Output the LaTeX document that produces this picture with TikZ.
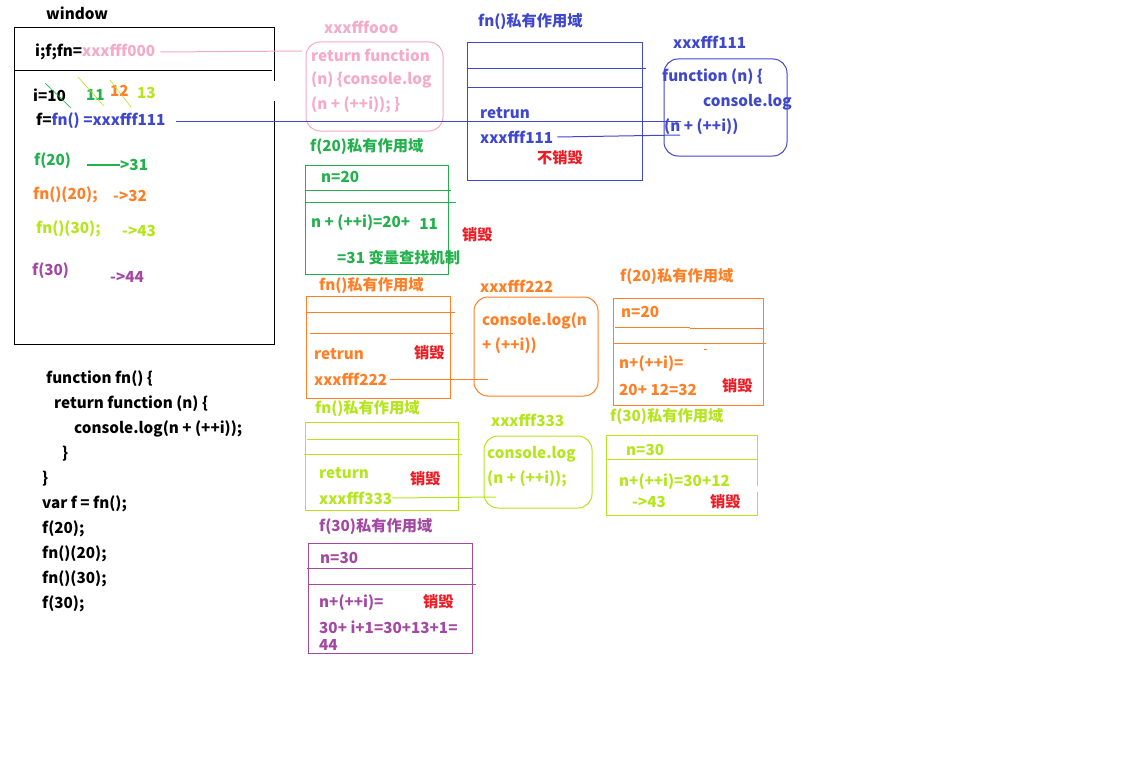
\documentclass[tikz,border=0pt]{standalone}
\usepackage{fontspec}
\setmainfont{Noto Sans CJK SC}
\usetikzlibrary{positioning}
\definecolor{pPink}{RGB}{245,170,200}
\definecolor{pBlue}{RGB}{63,72,204}
\definecolor{pGreen}{RGB}{34,177,76}
\definecolor{pOrange}{RGB}{255,127,39}
\definecolor{pLime}{RGB}{181,230,29}
\definecolor{pPurple}{RGB}{163,73,164}
\definecolor{pRed}{RGB}{237,28,36}
\tikzset{
    txt/.style={anchor=west, inner sep=0pt, font=\fontsize{15.3}{17}\selectfont\bfseries},
    pen/.style={line width=1bp},
    memo/.style={pen, rounded corners=14bp}
}

\begin{document}
\begin{tikzpicture}[x=1bp,y=-1bp]
\fill[white] (0,0) rectangle (1136,783);
\useasboundingbox (0,0) rectangle (1136,783);
% window
\node[txt] (winLbl) at (46,13) {window};
\draw[pen] (274,81) -- (274,28) -- (14,28) -- (14,344) -- (274,344) -- (274,101);
\draw[pen] (14,71) -- (272,71);
\node[txt] (vars) at (35,52) {i;f;fn=\textcolor{pPink}{xxxfff000}};
\node[txt] (iVal) at (33,95) {i=10};
\node[txt, pGreen] (i11) at (86,95) {11};
\node[txt, pOrange] (i12) at (110,91) {12};
\node[txt, pLime] (i13) at (137,93) {13};
\draw[pGreen, line width=0.6bp] (45,83) -- (71,108);
\draw[pLime, line width=0.6bp] (78,77) -- (104,106);
\draw[pLime, line width=0.6bp] (110,80) -- (131,107);
\node[txt] (fDef) at (36,121) {f=\textcolor{pBlue}{fn() =xxxfff111}};
\node[txt, pGreen] (call1) at (34,161) {f(20)};
\node[txt, pGreen] (res1) at (120,165) {>31};
\draw[pGreen, line width=2bp] ([xshift=-33bp]res1.west) -- (res1.west);
\node[txt, pOrange] (call2) at (33,195) {fn()(20);};
\node[txt, pOrange] (res2) at (113,196) {->32};
\node[txt, pLime] (call3) at (36,229) {fn()(30);};
\node[txt, pLime] (res3) at (122,231) {->43};
\node[txt, pPurple] (call4) at (32,271) {f(30)};
\node[txt, pPurple] (res4) at (110,277) {->44};
% source
\node[txt] (src1) at (46,379) {function fn() \{};
\node[txt] (src2) at (54,404) {return function (n) \{};
\node[txt] (src3) at (74,429) {console.log(n + (++i));};
\node[txt] (src4) at (62,454) {\}};
\node[txt] (src5) at (42,479) {\}};
\node[txt] (src6) at (42,504) {var f = fn();};
\node[txt] (src7) at (42,529) {f(20);};
\node[txt] (src8) at (42,554) {fn()(20);};
\node[txt] (src9) at (42,579) {fn()(30);};
\node[txt] (src10) at (42,604) {f(30);};
% heap xxxfffooo
\node[txt, pPink] (memA) at (324,27) {xxxfffooo};
\draw[pPink, memo] (306,42) rectangle (443,131);
\node[txt, pPink] (memA1) at (311,55) {return function};
\node[txt, pPink] (memA2) at (311,80) {(n) \{console.log};
\node[txt, pPink] (memA3) at (311,105) {(n + (++i)); \}};
\coordinate (memAin) at (302,51);
\draw[pPink, pen] ([xshift=5bp]vars.east) -- (memAin);
% fn() scope
\node[txt, pBlue] (scopeFn) at (478,22) {fn()私有作用域};
\draw[pBlue, pen] (467,43) rectangle (642,180);
\draw[pBlue, pen] (467,69) -- (646,69);
\draw[pBlue, pen] (467,88) -- (642,88);
\node[txt, pBlue] (ret1) at (480,113) {retrun};
\node[txt, pBlue] (addr1) at (480,137) {xxxfff111};
\node[txt, pRed] (keep1) at (537,158) {不销毁};
\node[txt, pBlue] (memB) at (673,42) {xxxfff111};
\draw[pBlue, memo] (664,59) rectangle (787,156);
\node[txt, pBlue] (memB1) at (662,77) {function (n) \{};
\node[txt, pBlue] (memB2) at (703,102) {console.log};
\node[txt, pBlue] (memB3) at (664,127) {(n + (++i))};
\coordinate (memBin) at (680,135);
\coordinate (memBtop) at (681,121);
\draw[pBlue, pen] ([xshift=4bp]addr1.east) -- (memBin);
\draw[pBlue, pen] ([xshift=10bp]fDef.east) -- (memBtop);
% f(20) scope
\node[txt, pGreen] (scopeF20) at (310,147) {f(20)私有作用域};
\draw[pGreen, pen] (305,165) rectangle (448,274);
\draw[pGreen, pen] (305,190) -- (451,190);
\draw[pGreen, pen] (305,202) -- (456,202);
\node[txt, pGreen] (n20a) at (321,177) {n=20};
\node[txt, pGreen] (sum1) at (311,223) {n + (++i)=20+\hspace{9bp}\raisebox{-2bp}{11}};
\node[txt, pGreen] (eq1) at (337,258) {=31 变量查找机制};
\node[txt, pRed] (kill1) at (462,235) {销毁};
% fn()(20) scope
\node[txt, pOrange] (scopeFn2) at (319,286) {fn()私有作用域};
\draw[pOrange, pen] (306,296) rectangle (450,398);
\draw[pOrange, pen] (306,312) -- (455,312);
\draw[pOrange, pen] (310,333) -- (453,333);
\node[txt, pOrange] (ret2) at (314,354) {retrun};
\node[txt, pRed] (kill2) at (414,353) {销毁};
\node[txt, pOrange] (addr2) at (314,379) {xxxfff222};
\node[txt, pOrange] (memC) at (480,286) {xxxfff222};
\draw[pOrange, memo] (474,297) rectangle (598,396);
\node[txt, pOrange] (memC1) at (482,321) {console.log(n};
\node[txt, pOrange] (memC2) at (482,346) {+ (++i))};
\coordinate (memCin) at (488,379);
\draw[pOrange, pen] ([xshift=3bp]addr2.east) -- (memCin);
\node[txt, pOrange] (scopeF20b) at (620,277) {f(20)私有作用域};
\draw[pOrange, pen] (613,298) rectangle (763,405);
\draw[pOrange, pen] (615,327) -- (690,327);
\draw[pOrange, pen] (690,328) -- (764,328);
\draw[pOrange, pen] (613,343) -- (766,343);
\draw[pOrange, pen] (704,349) -- (707,349);
\node[txt, pOrange] (n20b) at (621,312) {n=20};
\node[txt, pOrange] (sum2) at (619,364) {n+(++i)=};
\node[txt, pOrange] (eq2) at (619,390) {20+ 12=32};
\node[txt, pRed] (kill3) at (722,386) {销毁};
% fn()(30) scope
\node[txt, pLime] (scopeFn3) at (315,409) {fn()私有作用域};
\draw[pLime, pen] (305,422) rectangle (458,510);
\draw[pLime, pen] (307,439) -- (460,439);
\draw[pLime, pen] (304,454) -- (462,454);
\node[txt, pLime] (ret3) at (319,473) {return};
\node[txt, pRed] (kill4) at (410,479) {销毁};
\node[txt, pLime] (addr3) at (319,498) {xxxfff333};
\node[txt, pLime] (memD) at (491,420) {xxxfff333};
\draw[pLime, memo] (484,436) rectangle (592,508);
\node[txt, pLime] (memD1) at (487,454) {console.log};
\node[txt, pLime] (memD2) at (487,479) {(n + (++i));};
\coordinate (memDin) at (496,497);
\draw[pLime, pen] (addr3.east) -- (memDin);
\node[txt, pLime] (scopeF30) at (610,417) {f(30)私有作用域};
\draw[pLime, pen] (757,486) -- (757,435) -- (606,435) -- (606,515) -- (757,515) -- (757,492);
\draw[pLime, pen] (606,459) -- (758,459);
\node[txt, pLime] (n30a) at (626,450) {n=30};
\node[txt, pLime] (sum3) at (619,482) {n+(++i)=30+12};
\node[txt, pLime] (eq3) at (632,502) {->43};
\node[txt, pRed] (kill5) at (710,502) {销毁};
% f(30) scope
\node[txt, pPurple] (scopeF30b) at (319,527) {f(30)私有作用域};
\draw[pPurple, pen] (308,543) rectangle (472,653);
\draw[pPurple, pen] (307,568) -- (472,568);
\draw[pPurple, pen] (308,584) -- (476,584);
\node[txt, pPurple] (n30b) at (320,558) {n=30};
\node[txt, pPurple] (sum4) at (319,603) {n+(++i)=};
\node[txt, pRed] (kill6) at (423,602) {销毁};
\node[txt, pPurple] (eq4) at (319,627) {30+ i+1=30+13+1=};
\node[txt, pPurple] (eq4b) at (319,645) {44};
\end{tikzpicture}
\end{document}
